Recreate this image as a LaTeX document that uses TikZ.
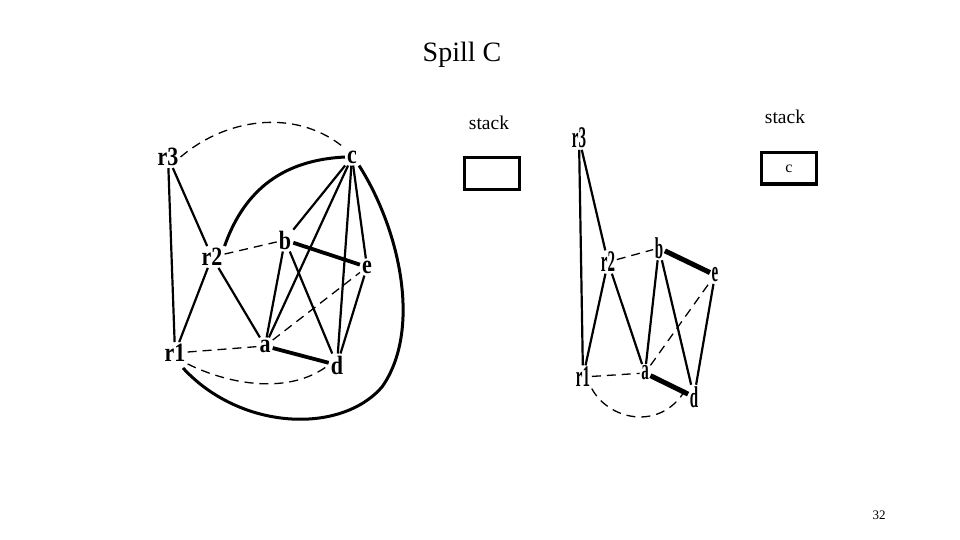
\documentclass[tikz,border=0pt]{standalone}
\usepackage{fontspec}
\setmainfont{Liberation Serif}
\begin{document}
\begin{tikzpicture}[x=1pt,y=-1pt,
  lv/.style={inner sep=2pt, font=\fontsize{22}{22}\selectfont\bfseries},
  rv/.style={inner sep=1.5pt, font=\fontsize{30}{30}\selectfont\bfseries},
  sol/.style={line width=2.2pt},
  thk/.style={line width=3.8pt},
  vthk/.style={line width=5pt},
  dsh/.style={line width=1.3pt, dash pattern=on 9pt off 6pt},
  stk/.style={font=\fontsize{19.5}{19.5}\selectfont},
  box/.style={draw, line width=3pt, minimum width=55pt, minimum height=31pt, inner sep=0pt}]
\useasboundingbox (0,0) rectangle (960,540);
\node (title) at (462,55) {\fontsize{28}{28}\selectfont Spill C};
\node[stk] (s1) at (489,123) {stack};
\node[stk] (s2) at (785,117) {stack};
\node[box] (b1) at (491.5,173.5) {};
\node[box, font=\fontsize{16}{16}\selectfont] (b2) at (789,168.5) {c};
\node (pg) at (879,515) {\fontsize{13}{13}\selectfont 32};
% left graph
\node[lv] (r3) at (168,157) {\scalebox{1}[1.2]{r3}};
\node[lv] (c) at (352,157) {\scalebox{1}[1.2]{c}};
\node[lv] (r2) at (212,257) {\scalebox{1}[1.2]{r2}};
\node[lv] (b) at (285,240) {\scalebox{1}[1.2]{b}};
\node[lv] (e) at (367,267) {\scalebox{1}[1.2]{e}};
\node[lv] (r1) at (175,353) {\scalebox{1}[1.2]{r1}};
\node[lv] (a) at (265,346) {\scalebox{1}[1.2]{a}};
\node[lv] (d) at (337,365) {\scalebox{1}[1.2]{d}};
\draw[dsh] (r3.east) .. controls (230,115) and (300,110) .. (c.north west);
\draw[sol] (r3) -- (r1);
\draw[sol] (r3) -- (r2);
\draw[sol] (r2) -- (r1);
\draw[sol] (r2) -- (a);
\draw[dsh] (r2) -- (b);
\draw[thk] (b) -- (e);
\draw[sol] (b) -- (a);
\draw[sol] (b) -- (d);
\draw[sol] (c) -- (b);
\draw[sol] (c) -- (a);
\draw[sol] (c) -- (d);
\draw[sol] (c) -- (e);
\draw[sol] (e) -- (d);
\draw[dsh] (a) -- (e);
\draw[dsh] (r1) -- (a);
\draw[thk] (a) -- (d);
\draw[line width=3pt] (r2.north east) .. controls (245,188) and (285,160) .. (c.west);
\draw[line width=3pt] (c.south east) .. controls (400,230) and (422,330) .. (382,387)
   .. controls (340,435) and (240,430) .. (183,368);
\draw[dsh] (r1.south east) .. controls (230,385) and (290,395) .. (d.west);
% right graph
\node[rv] (q3) at (579,138) {\scalebox{0.5}[1]{r3}};
\node[rv] (q2) at (608,262) {\scalebox{0.5}[1]{r2}};
\node[rv] (qb) at (659,248) {\scalebox{0.5}[1]{b}};
\node[rv] (qe) at (715,275) {\scalebox{0.5}[1]{e}};
\node[rv] (q1) at (583,377) {\scalebox{0.5}[1]{r1}};
\node[rv] (qa) at (645,373) {\scalebox{0.5}[1]{a}};
\node[rv] (qd) at (694,397) {\scalebox{0.5}[1]{d}};
\draw[sol] (q3) -- (q1);
\draw[sol] (q3) -- (q2);
\draw[sol] (q2) -- (q1);
\draw[sol] (q2) -- (qa);
\draw[dsh] (q2) -- (qb);
\draw[vthk] (qb) -- (qe);
\draw[sol] (qb) -- (qa);
\draw[sol] (qb) -- (qd);
\draw[dsh] (qa) -- (qe);
\draw[sol] (qe) -- (qd);
\draw[dsh] (q1) -- (qa);
\draw[vthk] (qa) -- (qd);
\draw[dsh] (q1.south east) .. controls (610,422) and (665,432) .. (qd.north west);
\end{tikzpicture}
\end{document}
